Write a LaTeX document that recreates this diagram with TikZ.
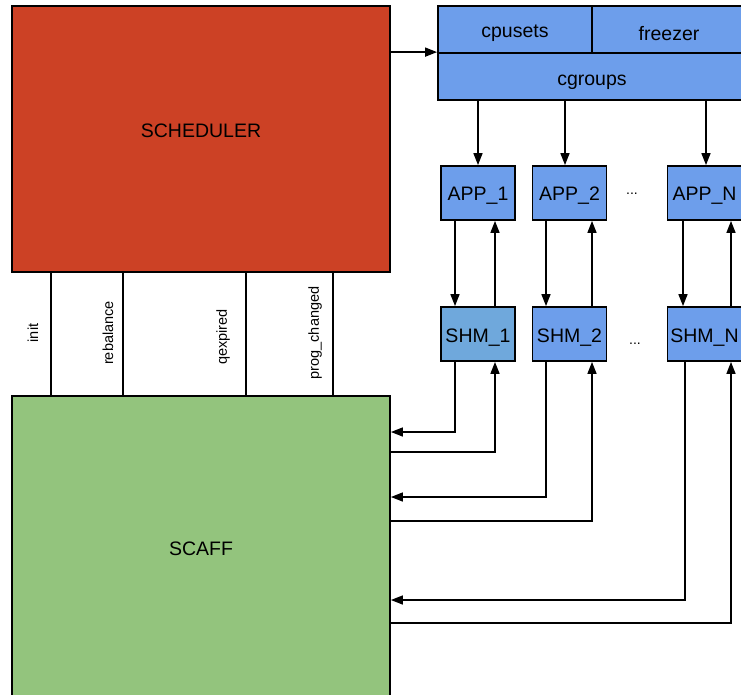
\documentclass[tikz,border=0pt]{standalone}
\usepackage{fontspec}
\setmainfont{Liberation Sans}
\usetikzlibrary{arrows.meta,positioning,calc}
\definecolor{schedred}{HTML}{CC4125}
\definecolor{scaffgreen}{HTML}{93C47D}
\definecolor{cgblue}{HTML}{6D9EEB}
\definecolor{shmblue}{HTML}{6FA8DC}
\newcommand{\liftlabel}[2]{\raisebox{#1}[\height][\depth]{#2}}
\tikzset{
	Arr/.style={-{Triangle[length=12pt,width=9pt]}, line width=1.5pt},
	Lbl/.style={rotate=90, font=\fontsize{14.5}{16}\selectfont}
}

\begin{document}
\begin{tikzpicture}[x=1pt, y=-1pt,
	BigBox/.style={draw, line width=1.8pt, minimum width=378pt, inner sep=0pt, font=\fontsize{19.5}{20}\selectfont},
	CgBox/.style={draw, fill=cgblue, line width=1.8pt, minimum width=154pt, minimum height=47pt, inner sep=0pt, font=\fontsize{19.5}{20}\selectfont},
	ProcBox/.style={draw, fill=cgblue, line width=1.8pt, minimum width=74pt, minimum height=54pt, inner sep=0pt, font=\fontsize{19.5}{20}\selectfont}]
	\clip (0,0) rectangle (741,694);
	\node[BigBox, fill=schedred, minimum height=266pt] (sched) at (201,139) {\liftlabel{8pt}{SCHEDULER}};
	\node[BigBox, fill=scaffgreen, minimum height=306pt] (scaff) at (201,549) {SCAFF};
	% cgroups block
	\node[CgBox] (cpusets) at (515,29.5) {\liftlabel{-4pt}{cpusets}};
	\node[CgBox] (freezer) at (669,29.5) {\liftlabel{-4pt}{freezer}};
	\node[CgBox, minimum width=308pt] (cgroups) at (592,76.5) {\liftlabel{-6pt}{cgroups}};
	\draw[Arr] (sched.east |- cgroups.north west) -- (cgroups.north west);
	% apps and shared memory
	\node[ProcBox] (app1) at (478,193) {\liftlabel{-3pt}{APP\_1}};
	\node[ProcBox] (app2) at (569.5,193) {\liftlabel{-3pt}{APP\_2}};
	\node[ProcBox] (appN) at (704.5,193) {\liftlabel{-3pt}{APP\_N}};
	\node[ProcBox, fill=shmblue] (shm1) at (478,334) {\liftlabel{-3.5pt}{SHM\_1}};
	\node[ProcBox] (shm2) at (569.5,334) {\liftlabel{-3.5pt}{SHM\_2}};
	\node[ProcBox] (shmN) at (704.5,334) {\liftlabel{-3.5pt}{SHM\_N}};
	\node[font=\fontsize{14}{16}\selectfont] (dotsA) at (632,194) {...};
	\node[font=\fontsize{14}{16}\selectfont] (dotsB) at (635,344) {...};
	\foreach \a/\d in {app1/0, app2/-4.5, appN/1.5}
		\draw[Arr] ([xshift=\d]\a.north |- cgroups.south) -- ([xshift=\d]\a.north);
	\foreach \a/\s/\dn/\up in {app1/shm1/-23/17, app2/shm2/-23.5/22.5, appN/shmN/-21.5/26.5} {
		\draw[Arr] ([xshift=\dn]\a.south) -- ([xshift=\dn]\s.north);
		\draw[Arr] ([xshift=\up]\s.north) -- ([xshift=\up]\a.south);
	}
	% shm <-> scaff
	\draw[Arr] ([xshift=-23]shm1.south) |- (scaff.east |- 0,432);
	\draw[Arr] (scaff.east |- 0,452) -| ([xshift=17]shm1.south);
	\draw[Arr] ([xshift=-23.5]shm2.south) |- (scaff.east |- 0,497);
	\draw[Arr] (scaff.east |- 0,521) -| ([xshift=22.5]shm2.south);
	\draw[Arr] ([xshift=-19.5]shmN.south) |- (scaff.east |- 0,600);
	\draw[Arr] (scaff.east |- 0,623) -| ([xshift=26.5]shmN.south);
	% signals
	\foreach \x in {51,123,246,333}
		\draw[line width=1.5pt] (sched.south -| \x,0) -- (scaff.north -| \x,0);
	\node[Lbl] (init) at (33,333) {init};
	\node[Lbl] (rebal) at (108,333) {rebalance};
	\node[Lbl] (qexp) at (223,337) {qexpired};
	\node[Lbl] (progch) at (315,333) {prog\_changed};
\end{tikzpicture}
\end{document}
